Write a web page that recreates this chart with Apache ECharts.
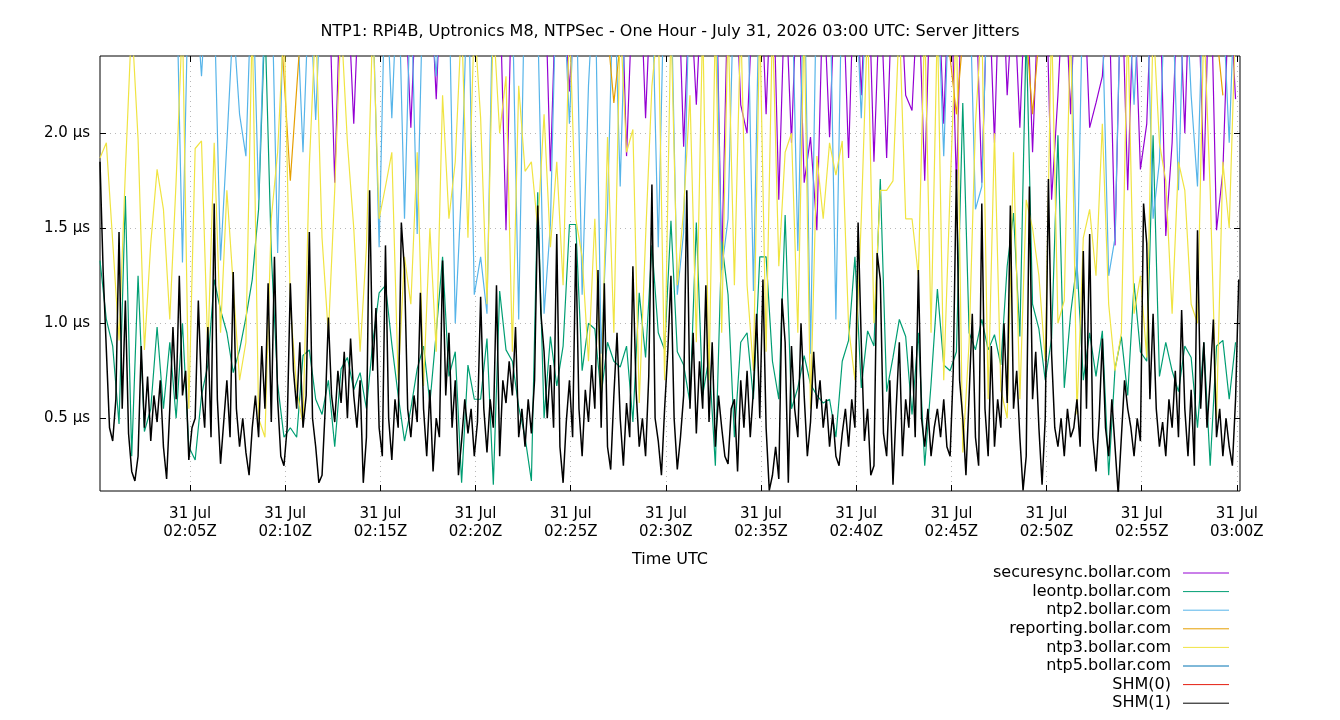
<!DOCTYPE html>
<html>
<head>
<meta charset="utf-8">
<title>Server Jitters</title>
<script src="https://cdn.jsdelivr.net/npm/echarts@6/dist/echarts.min.js"></script>
<style>
  html, body { margin: 0; padding: 0; background: #fff; }
  #chart { width: 1340px; height: 720px; }
</style>
</head>
<body>
<div id="chart"></div>
<script>
// time base (UTC) and sample steps, seconds
const startTime = Date.UTC(2026, 6, 31, 2, 0, 16);
const endTime = Date.UTC(2026, 6, 31, 3, 0, 10);

// x tick marks, every 5 minutes
const tickTimes = [5, 10, 15, 20, 25, 30, 35, 40, 45, 50, 55, 60].map(
  (m) => Date.UTC(2026, 6, 31, 2, m, 0)
);
const yTicks = [0.5, 1.0, 1.5, 2.0];

const seriesNames = [
  "securesync.bollar.com",
  "leontp.bollar.com",
  "ntp2.bollar.com",
  "reporting.bollar.com",
  "ntp3.bollar.com",
  "ntp5.bollar.com",
  "SHM(0)",
  "SHM(1)",
];
const seriesColors = ["#9400d3", "#009e73", "#56b4e9", "#e69f00", "#f0e442", "#0072b2", "#e51e10", "#000000"];

// jitter in µs
const securesyncStep = 20;
const securesyncJitter = [
  2.9, 3.0, 2.9, 2.8, 3.0, 2.9, 2.9, 3.1, 2.9, 2.8, 3.0, 2.9, 2.9, 2.8, 3.0,
  2.9, 3.0, 2.9, 2.8, 3.0, 2.9, 3.1, 2.9, 2.8, 3.0, 2.9, 2.9, 2.8, 3.0, 2.9,
  2.9, 3.0, 2.9, 2.8, 3.0, 2.9, 2.9, 1.74, 2.9, 2.8, 2.05, 2.9, 2.9, 2.8, 3.0,
  2.9, 3.0, 2.9, 2.8, 2.03, 2.9, 3.1, 2.9, 2.18, 3.0, 2.9, 2.9, 2.8, 3.0, 2.9,
  2.9, 3.0, 2.9, 2.8, 1.49, 2.9, 2.9, 3.1, 2.9, 2.8, 3.0, 1.80, 2.9, 2.8, 2.22,
  2.9, 3.0, 2.9, 2.8, 3.0, 2.9, 2.9, 3.1, 1.88, 2.8, 3.0, 2.08, 2.9, 2.8, 3.0,
  2.9, 3.0, 1.93, 2.8, 2.15, 2.9, 2.9, 3.1, 1.29, 2.8, 3.0, 2.15, 2.00, 2.8, 3.0,
  2.10, 3.0, 1.65, 2.8, 1.95, 2.9, 1.74, 1.98, 1.49, 2.8, 1.98, 2.9, 2.9, 1.87, 3.0,
  2.20, 3.0, 1.85, 2.8, 1.87, 2.9, 2.9, 2.20, 2.12, 2.8, 1.75, 2.9, 2.9, 2.05, 3.0,
  1.72, 3.0, 2.9, 2.8, 1.74, 2.9, 1.95, 3.1, 2.20, 2.8, 2.03, 2.9, 1.90, 2.8, 3.0,
  1.65, 2.20, 2.9, 2.10, 3.0, 2.9, 2.03, 2.16, 2.30, 2.8, 1.41, 2.9, 1.70, 2.8, 1.81,
  2.05, 3.0, 2.9, 1.46, 1.95, 2.9, 2.00, 3.1, 2.9, 1.75, 3.0, 1.49, 1.80, 2.8, 2.18,
];

const leontpStep = 20;
const leontpJitter = [
  1.33, 1.02, 0.88, 0.47, 1.67, 0.30, 1.25, 0.43, 0.55, 0.98, 0.55, 0.90, 0.50, 1.00, 0.35,
  0.28, 0.62, 0.78, 1.23, 1.07, 0.95, 0.74, 0.86, 1.03, 1.23, 1.60, 2.60, 1.37, 0.68, 0.40,
  0.45, 0.40, 0.83, 0.86, 0.60, 0.52, 0.70, 0.35, 0.76, 0.82, 0.65, 0.74, 0.55, 0.90, 1.16,
  1.20, 0.89, 0.62, 0.38, 0.55, 0.76, 0.88, 0.58, 0.95, 1.35, 0.72, 0.85, 0.16, 0.78, 0.60,
  0.60, 0.92, 0.15, 1.17, 0.86, 0.80, 0.56, 0.40, 0.17, 1.69, 0.50, 0.93, 0.67, 0.88, 1.52,
  1.52, 0.75, 1.00, 0.97, 0.62, 0.90, 0.80, 0.77, 0.88, 0.48, 1.16, 0.82, 1.41, 0.95, 0.86,
  1.54, 0.85, 0.78, 0.58, 1.53, 0.62, 0.82, 0.25, 1.43, 1.15, 0.40, 0.90, 0.95, 0.60, 1.35,
  1.35, 0.80, 0.60, 1.57, 0.55, 0.66, 0.83, 0.68, 0.62, 0.58, 0.60, 0.40, 0.80, 0.91, 1.35,
  0.66, 0.96, 0.88, 1.76, 0.64, 0.82, 1.02, 0.93, 0.52, 0.95, 0.25, 0.68, 1.18, 0.78, 0.75,
  0.85, 2.16, 0.95, 0.86, 1.02, 0.86, 0.94, 0.78, 1.30, 1.58, 0.93, 2.55, 1.10, 0.97, 0.70,
  0.92, 1.99, 0.66, 1.05, 1.32, 0.70, 0.95, 0.72, 0.96, 0.20, 0.76, 0.93, 0.62, 1.21, 0.85,
  0.80, 1.99, 0.72, 0.90, 0.75, 0.64, 0.88, 0.82, 0.45, 0.90, 0.25, 0.88, 0.91, 0.60, 0.90,
];

const ntp2Step = 20;
const ntp2Jitter = [
  2.9, 3.0, 2.9, 2.8, 3.0, 2.9, 2.9, 3.1, 2.9, 2.8, 3.0, 2.9, 2.9, 1.32, 2.9,
  2.8, 2.3, 2.9, 2.7, 1.33, 1.95, 2.6, 2.1, 1.88, 2.9, 1.65, 2.7, 2.9, 1.37, 2.8,
  2.9, 2.7, 1.90, 2.8, 2.07, 2.9, 3.0, 2.7, 2.9, 2.6, 2.9, 2.8, 2.9, 2.7, 1.40,
  2.9, 2.08, 2.9, 1.55, 2.8, 1.47, 2.9, 2.7, 2.30, 2.9, 2.8, 1.00, 1.72, 2.9, 1.15,
  1.35, 1.05, 2.9, 2.8, 2.9, 2.7, 1.02, 2.9, 2.8, 2.6, 1.05, 1.52, 2.9, 2.8, 2.05,
  2.9, 1.15, 2.25, 2.9, 0.84, 1.60, 2.9, 1.72, 2.9, 2.8, 2.6, 2.9, 2.8, 1.40, 2.9,
  2.8, 1.15, 1.48, 2.9, 2.7, 2.9, 2.6, 2.9, 1.28, 1.55, 2.9, 2.8, 2.9, 1.17, 2.9,
  2.7, 2.9, 2.8, 2.6, 2.9, 1.38, 2.9, 0.84, 2.9, 2.7, 2.9, 1.02, 2.9, 2.8, 2.9,
  2.08, 2.9, 2.8, 2.9, 2.7, 2.9, 2.5, 2.9, 2.8, 2.9, 2.6, 2.9, 2.8, 1.88, 2.9,
  2.9, 2.8, 2.9, 1.60, 1.72, 2.9, 2.8, 2.9, 2.6, 2.9, 2.8, 2.9, 2.7, 2.9, 2.8,
  2.9, 2.8, 2.9, 2.7, 1.18, 2.9, 2.8, 2.9, 2.6, 1.25, 1.45, 2.9, 2.8, 2.15, 2.9,
  2.8, 1.55, 1.85, 2.9, 2.8, 1.70, 2.9, 2.20, 1.72, 2.9, 2.8, 2.9, 2.7, 1.95, 2.9,
];

const reportingStep = 60;
const reportingJitter = [
  3.2, 3.4, 3.1, 3.3, 3.5, 3.2, 3.0, 3.3, 3.1, 3.4, 1.75, 3.2, 3.3, 3.1, 3.4,
  3.2, 3.0, 3.3, 3.1, 3.4, 3.2, 3.3, 3.1, 3.4, 3.2, 3.0, 3.3, 2.16, 3.1, 3.4,
  3.2, 3.3, 3.1, 3.4, 3.2, 3.0, 3.3, 3.1, 3.4, 3.2, 3.3, 3.1, 3.4, 3.2, 3.0,
  2.10, 3.3, 3.1, 3.4, 2.10, 3.3, 3.1, 3.4, 3.2, 3.0, 3.3, 3.1, 3.4, 3.2, 2.20,
];

const ntp3Step = 20;
const ntp3Jitter = [
  1.87, 1.95, 1.43, 0.91, 1.80, 2.60, 1.97, 0.86, 1.42, 1.81, 1.60, 1.02, 1.75, 2.60, 0.55,
  1.92, 1.96, 0.85, 1.95, 0.95, 1.70, 1.20, 0.70, 0.90, 2.60, 0.50, 0.40, 1.55, 1.90, 2.60,
  1.10, 0.65, 0.47, 1.83, 2.60, 1.45, 0.94, 1.70, 2.60, 1.95, 1.50, 0.85, 1.40, 2.60, 1.55,
  1.72, 1.90, 0.70, 1.35, 1.10, 1.90, 0.67, 1.50, 0.85, 2.20, 1.55, 1.85, 2.60, 1.45, 2.60,
  2.08, 1.10, 2.60, 2.00, 2.30, 0.85, 2.25, 1.80, 1.85, 1.50, 2.10, 1.40, 1.85, 1.20, 2.60,
  1.55, 1.35, 0.80, 1.55, 0.60, 1.98, 0.95, 2.60, 1.90, 2.02, 0.58, 1.45, 2.25, 2.60, 0.70,
  2.60, 1.20, 1.60, 2.20, 0.90, 2.60, 0.70, 2.60, 0.95, 2.60, 1.20, 2.60, 1.20, 0.75, 2.60,
  0.85, 2.60, 1.30, 1.90, 2.00, 0.95, 2.60, 0.55, 1.88, 1.55, 1.95, 1.78, 1.96, 0.98, 0.70,
  1.55, 2.60, 1.00, 1.70, 1.70, 1.75, 2.60, 1.55, 1.55, 1.25, 2.60, 0.95, 2.60, 0.70, 1.70,
  2.60, 0.32, 0.90, 2.05, 2.60, 0.60, 2.00, 0.65, 0.50, 1.90, 0.60, 1.65, 1.50, 1.25, 0.80,
  2.60, 1.00, 1.12, 2.60, 0.52, 1.45, 1.60, 1.25, 2.05, 1.10, 0.75, 0.95, 2.60, 1.05, 1.25,
  0.82, 2.60, 1.95, 1.75, 1.05, 1.85, 1.70, 1.10, 1.00, 2.60, 1.70, 0.50, 1.85, 1.50, 2.60,
];

const ntp5Step = 120;
const ntp5Jitter = [
  4.1, 3.8, 4.5, 3.9, 4.2, 3.7, 4.4, 4.0, 3.6, 4.3, 3.9, 4.1, 3.8, 4.6, 4.0,
  3.7, 4.2, 3.9, 4.4, 3.8, 4.1, 3.6, 4.3, 4.0, 3.9, 4.5, 3.8, 4.2, 3.7, 4.0,
];

const shm0Step = 120;
const shm0Jitter = [
  6.2, 5.8, 6.5, 6.0, 5.7, 6.3, 6.1, 5.9, 6.4, 6.0, 5.8, 6.2, 6.6, 5.9, 6.1,
  6.3, 5.7, 6.0, 6.4, 5.8, 6.2, 6.1, 5.9, 6.5, 6.0, 5.8, 6.3, 6.1, 5.9, 6.2,
];

const shm1Step = 10;
const shm1Jitter = [
  1.85, 1.27, 0.86, 0.45, 0.38, 0.60, 1.48, 0.55, 1.12, 0.42, 0.22, 0.17, 0.30, 0.88, 0.45, 0.72, 0.38, 0.62, 0.48, 0.70, 0.35, 0.18, 0.55, 0.98, 0.60, 1.25, 0.62, 0.75, 0.28, 0.45,
  0.50, 1.12, 0.65, 0.45, 0.98, 0.40, 1.63, 0.60, 0.26, 0.48, 0.70, 0.40, 1.27, 0.55, 0.35, 0.50, 0.32, 0.20, 0.45, 0.62, 0.40, 0.88, 0.55, 1.21, 0.48, 1.35, 0.60, 0.30, 0.25, 0.45,
  1.21, 0.75, 0.55, 0.90, 0.45, 0.62, 1.48, 0.50, 0.35, 0.16, 0.20, 0.55, 1.03, 0.62, 0.48, 0.75, 0.58, 0.85, 0.50, 0.92, 0.62, 0.45, 0.70, 0.16, 0.40, 1.70, 0.75, 1.08, 0.45, 0.30,
  1.41, 0.50, 0.28, 0.60, 0.45, 1.53, 1.28, 0.55, 0.40, 0.62, 0.48, 1.16, 0.55, 0.30, 0.65, 0.22, 0.50, 0.40, 1.33, 0.62, 0.95, 0.45, 0.70, 0.20, 0.38, 0.60, 0.42, 0.55, 0.30, 0.48,
  1.14, 0.55, 0.32, 0.60, 0.45, 1.20, 0.30, 0.70, 0.58, 0.80, 0.62, 0.98, 0.40, 0.55, 0.35, 0.60, 0.42, 0.70, 1.62, 1.05, 0.85, 0.50, 0.78, 0.45, 1.47, 0.35, 0.16, 0.48, 0.70, 0.40,
  1.42, 0.55, 0.30, 0.65, 0.48, 0.78, 0.55, 1.28, 0.45, 1.21, 0.35, 0.23, 0.62, 0.95, 0.50, 0.25, 0.58, 0.40, 1.30, 0.65, 0.35, 0.50, 0.30, 0.72, 1.73, 0.50, 0.38, 0.20, 0.55, 0.85,
  1.25, 0.50, 0.23, 0.40, 0.62, 1.70, 0.55, 0.95, 0.42, 0.80, 0.55, 1.20, 0.48, 0.90, 0.35, 0.62, 0.45, 0.30, 0.26, 0.55, 0.60, 0.22, 0.70, 0.45, 0.75, 0.40, 0.65, 1.05, 0.50, 1.23,
  0.45, 0.12, 0.20, 0.35, 0.18, 1.13, 0.90, 0.16, 0.88, 0.55, 0.40, 1.00, 0.62, 0.30, 0.48, 0.85, 0.55, 0.70, 0.45, 0.60, 0.35, 0.52, 0.30, 0.25, 0.42, 0.55, 0.35, 0.60, 0.45, 1.53,
  0.90, 0.38, 0.55, 0.20, 0.25, 1.37, 1.23, 0.42, 0.30, 0.70, 0.15, 0.55, 0.90, 0.30, 0.60, 0.45, 0.88, 0.40, 1.28, 0.50, 0.35, 0.55, 0.30, 0.45, 0.55, 0.40, 0.60, 0.35, 0.30, 0.75,
  1.81, 0.70, 0.50, 0.20, 0.62, 1.05, 0.40, 0.25, 1.63, 0.55, 0.30, 0.88, 0.35, 0.60, 0.45, 1.00, 0.58, 1.62, 0.55, 0.75, 0.40, 0.12, 0.30, 1.72, 0.60, 0.85, 0.45, 0.15, 0.50, 1.76,
  0.84, 0.45, 0.35, 0.50, 0.30, 0.55, 0.40, 0.45, 0.60, 0.35, 1.38, 0.55, 1.47, 0.40, 0.22, 0.50, 0.92, 0.45, 0.30, 0.60, 0.35, 0.10, 0.40, 0.70, 0.55, 0.45, 0.30, 0.50, 0.38, 1.63,
  1.42, 0.60, 1.05, 0.55, 0.35, 0.48, 0.30, 0.60, 0.45, 0.75, 0.40, 1.07, 0.55, 0.30, 0.65, 0.25, 1.49, 0.55, 0.90, 0.45, 0.70, 1.02, 0.40, 0.55, 0.30, 0.50, 0.35, 0.25, 0.60, 1.23,
];

const jitterLists = [securesyncJitter, leontpJitter, ntp2Jitter, reportingJitter, ntp3Jitter, ntp5Jitter, shm0Jitter, shm1Jitter];
const jitterSteps = [securesyncStep, leontpStep, ntp2Step, reportingStep, ntp3Step, ntp5Step, shm0Step, shm1Step];

const FONT = "DejaVu Sans";

function pairs(values, step) {
  return values.map((v, i) => [startTime + i * step * 1000, v]);
}

function fmtTime(v) {
  const d = new Date(v);
  const hh = String(d.getUTCHours()).padStart(2, "0");
  const mm = String(d.getUTCMinutes()).padStart(2, "0");
  return "31 Jul\n" + hh + ":" + mm + "Z";
}

const series = seriesNames.map((name, i) => ({
  name: name,
  type: "line",
  data: pairs(jitterLists[i], jitterSteps[i]),
  showSymbol: false,
  symbol: "none",
  clip: true,
  lineStyle: { color: seriesColors[i], width: i === 7 ? 1.5 : 1.2 },
  itemStyle: { color: seriesColors[i] },
  emphasis: { disabled: true },
}));

// gnuplot-style key at the bottom right: text right aligned, line sample after
const legendGraphic = [];
seriesNames.forEach((name, i) => {
  const y = 573 + i * 18.6;
  legendGraphic.push({
    type: "text",
    x: 1171,
    y: y,
    style: {
      text: name,
      fill: "#000",
      font: "16px '" + FONT + "'",
      textAlign: "right",
      textVerticalAlign: "middle",
    },
  });
  legendGraphic.push({
    type: "line",
    shape: { x1: 1183, y1: y, x2: 1229, y2: y },
    style: { stroke: seriesColors[i], lineWidth: 1 },
  });
});

const tickStyle = { show: true, inside: true, length: 6, lineStyle: { color: "#000" } };

const options = {
  animation: false,
  backgroundColor: "#fff",
  title: {
    text: "NTP1: RPi4B, Uptronics M8, NTPSec - One Hour - July 31, 2026 03:00 UTC: Server Jitters",
    left: "center",
    top: 19,
    textStyle: { fontFamily: FONT, fontSize: 16, fontWeight: "normal", color: "#000" },
  },
  grid: {
    left: 100,
    right: 100,
    top: 56,
    bottom: 229,
    show: true,
    borderColor: "#000",
    borderWidth: 1,
  },
  xAxis: [
    {
      type: "value",
      min: startTime,
      max: endTime,
      name: "Time UTC",
      nameLocation: "middle",
      nameGap: 61,
      nameTextStyle: { fontFamily: FONT, fontSize: 16, color: "#000" },
      axisLine: { show: false },
      axisTick: Object.assign({ customValues: tickTimes }, tickStyle),
      axisLabel: {
        customValues: tickTimes,
        formatter: fmtTime,
        fontFamily: FONT,
        fontSize: 15,
        color: "#000",
        lineHeight: 18,
        margin: 14,
      },
      splitLine: { show: true, lineStyle: { color: "#b8b8b8", type: [1, 4], width: 1 } },
    },
    {
      type: "value",
      position: "top",
      min: startTime,
      max: endTime,
      axisLine: { show: false },
      axisTick: Object.assign({ customValues: tickTimes }, tickStyle),
      axisLabel: { show: false },
      splitLine: { show: false },
    },
  ],
  yAxis: [
    {
      type: "value",
      min: 0.117,
      max: 2.407,
      axisLine: { show: false },
      axisTick: Object.assign({ customValues: yTicks }, tickStyle),
      axisLabel: {
        customValues: yTicks,
        formatter: (v) => v.toFixed(1) + " µs",
        fontFamily: FONT,
        fontSize: 15,
        color: "#000",
        margin: 10,
      },
      splitLine: { show: true, lineStyle: { color: "#b8b8b8", type: [1, 4], width: 1 } },
    },
    {
      type: "value",
      position: "right",
      min: 0.117,
      max: 2.407,
      axisLine: { show: false },
      axisTick: Object.assign({ customValues: yTicks }, tickStyle),
      axisLabel: { show: false },
      splitLine: { show: false },
    },
  ],
  graphic: legendGraphic,
  series: series,
};

document.addEventListener("DOMContentLoaded", function () {
  const chart = echarts.init(document.getElementById("chart"));
  chart.setOption(options);
});
</script>
</body>
</html>
